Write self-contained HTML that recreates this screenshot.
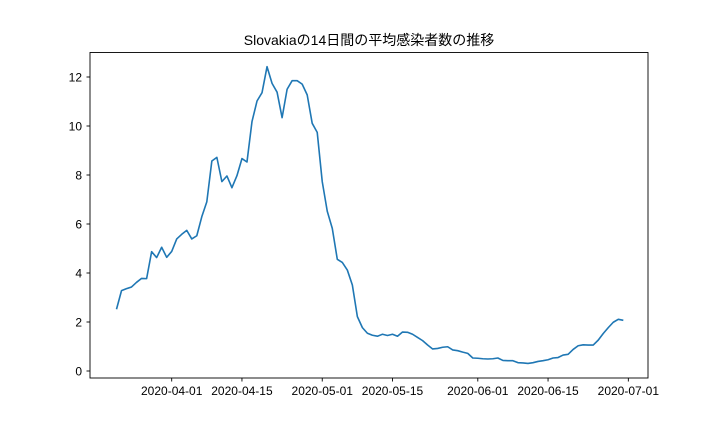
<!DOCTYPE html>
<html><head><meta charset="utf-8">
<style>
body{margin:0;background:#fff;}
svg{display:block;font-family:"Liberation Sans","Noto Sans CJK JP",sans-serif;}
</style></head>
<body>
<svg id="chart" width="720" height="432" viewBox="0 0 720 432" xmlns="http://www.w3.org/2000/svg">
<rect width="720" height="432" fill="#fff"/>
<text x="369" y="45" text-anchor="middle" font-size="14" fill="#000">Slovakiaの14日間の平均感染者数の推移</text>
<g id="grid"></g>
<path id="line" fill="none" stroke="#1f77b4" stroke-width="1.6" stroke-linejoin="round"/>
<rect x="90" y="52.5" width="558" height="325.5" fill="none" stroke="#000" stroke-width="0.9"/>
</svg>
<script>
const startDate = "2020-03-21";
const values = [2.52,3.28,3.36,3.43,3.62,3.78,3.77,4.87,4.63,5.05,4.64,4.88,5.39,5.58,5.74,5.39,5.52,6.30,6.91,8.57,8.72,7.73,7.96,7.48,7.97,8.67,8.53,10.18,11.02,11.36,12.42,11.74,11.38,10.34,11.50,11.85,11.85,11.71,11.27,10.11,9.74,7.73,6.52,5.82,4.56,4.43,4.12,3.51,2.22,1.77,1.54,1.46,1.42,1.50,1.45,1.50,1.42,1.59,1.58,1.50,1.37,1.24,1.06,0.90,0.92,0.97,0.99,0.86,0.83,0.77,0.72,0.53,0.52,0.50,0.49,0.50,0.53,0.43,0.42,0.42,0.34,0.33,0.31,0.34,0.39,0.42,0.46,0.53,0.55,0.65,0.68,0.88,1.03,1.07,1.06,1.06,1.26,1.53,1.77,1.99,2.11,2.07];
const yTicks = [0,2,4,6,8,10,12];
const xTickLabels = ["2020-04-01","2020-04-15","2020-05-01","2020-05-15","2020-06-01","2020-06-15","2020-07-01"];

const DAY = 86400000;
const t0 = Date.parse("2020-04-01T00:00:00Z");
function xScale(ms){ return 171.7 + (ms - t0)/DAY * 5.018; }
function yScale(v){ return 371 - v*24.5; }

const svg = document.getElementById('chart');
const g = document.getElementById('grid');
const NS = "http://www.w3.org/2000/svg";
yTicks.forEach(v=>{
  const y = yScale(v);
  const l = document.createElementNS(NS,'line');
  
  
  l.setAttribute('x1',86.5);l.setAttribute('x2',90);l.setAttribute('y1',y);l.setAttribute('y2',y);
  l.setAttribute('stroke','#000');l.setAttribute('stroke-width','0.9');
  g.appendChild(l);
  const t = document.createElementNS(NS,'text');
  
  
  t.setAttribute('x',82);t.setAttribute('y',y+4.5);t.setAttribute('text-anchor','end');
  t.setAttribute('font-size','12');t.textContent=v;
  g.appendChild(t);
});
xTickLabels.forEach(s=>{
  const x = xScale(Date.parse(s+"T00:00:00Z"));
  const l = document.createElementNS(NS,'line');
  
  
  l.setAttribute('x1',x);l.setAttribute('x2',x);l.setAttribute('y1',378);l.setAttribute('y2',381.5);
  l.setAttribute('stroke','#000');l.setAttribute('stroke-width','0.9');
  g.appendChild(l);
  const t = document.createElementNS(NS,'text');
  
  
  t.setAttribute('x',x);t.setAttribute('y',395);t.setAttribute('text-anchor','middle');
  t.setAttribute('font-size','12');t.textContent=s;
  g.appendChild(t);
});
const s0 = Date.parse(startDate+"T00:00:00Z");
let d = "";
values.forEach((v,i)=>{
  d += (i?"L":"M") + xScale(s0 + i*DAY).toFixed(2) + "," + yScale(v).toFixed(2);
});
document.getElementById('line').setAttribute('d', d);
</script>
</body></html>
